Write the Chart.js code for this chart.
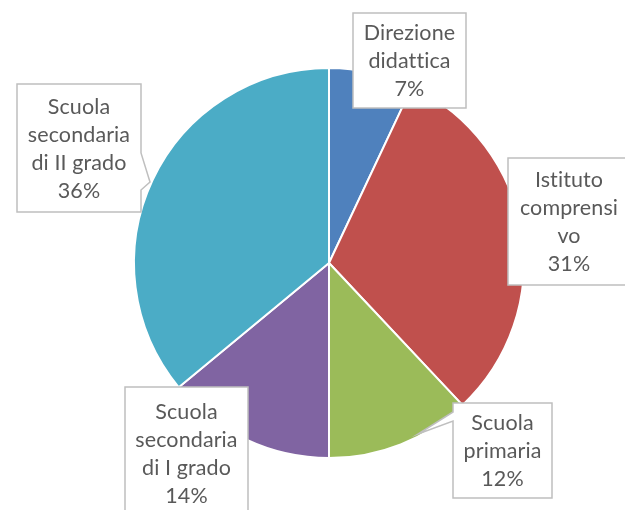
<!DOCTYPE html>
<html><head><meta charset="utf-8">
<script src="https://cdn.jsdelivr.net/npm/chart.js@4.4.0/dist/chart.umd.min.js"></script>
<style>html,body{margin:0;padding:0;background:#fff;overflow:hidden}#wrap{width:625px;height:510px;position:relative}</style>
</head><body><div id="wrap"><canvas id="c" width="625" height="510"></canvas></div>
<script>
// ---- data ----
const categories = ["Direzione didattica", "Istituto comprensivo", "Scuola primaria", "Scuola secondaria di I grado", "Scuola secondaria di II grado"];
const labelLines = [["Direzione", "didattica"], ["Istituto", "comprensi", "vo"], ["Scuola", "primaria"], ["Scuola", "secondaria", "di I grado"], ["Scuola", "secondaria", "di II grado"]];
const percentages = [7, 31, 12, 14, 36];
const sliceColors = ["#4F81BD", "#C0504D", "#9BBB59", "#8064A2", "#4BACC6"];

// ---- callout layout (pixels) ----
const calloutBoxes = [
  { x: 353, y: 13, w: 113, h: 95 },
  { x: 508, y: 158, w: 122, h: 127 },
  { x: 453, y: 403, w: 99, h: 95, ptr: { side: "left", a: 412, b: 421, tx: 418, ty: 434 } },
  { x: 125, y: 387, w: 123, h: 133 },
  { x: 17, y: 84, w: 124, h: 128, ptr: { side: "right", a: 153, b: 190, tx: 150, ty: 182 } }
];
const FONT = "21.5px Lato";
const LINE_H = 28;

const calloutPlugin = {
  id: "callouts",
  afterDatasetsDraw(chart) {
    const ctx = chart.ctx;
    const ds = chart.data.datasets[0];
    ctx.save();
    calloutBoxes.forEach((b, i) => {
      ctx.beginPath();
      const { x, y, w, h, ptr } = b;
      if (ptr && ptr.side === "right") {
        ctx.moveTo(x, y); ctx.lineTo(x + w, y); ctx.lineTo(x + w, ptr.a);
        ctx.lineTo(ptr.tx, ptr.ty); ctx.lineTo(x + w, ptr.b);
        ctx.lineTo(x + w, y + h); ctx.lineTo(x, y + h); ctx.closePath();
      } else if (ptr && ptr.side === "left") {
        ctx.moveTo(x, y); ctx.lineTo(x + w, y); ctx.lineTo(x + w, y + h);
        ctx.lineTo(x, y + h); ctx.lineTo(x, ptr.b); ctx.lineTo(ptr.tx, ptr.ty);
        ctx.lineTo(x, ptr.a); ctx.closePath();
      } else {
        ctx.rect(x, y, w, h);
      }
      ctx.fillStyle = "#ffffff";
      ctx.fill();
      ctx.strokeStyle = "#BFBFBF";
      ctx.lineWidth = 1.5;
      ctx.stroke();

      const lines = labelLines[i].concat([ds.data[i] + "%"]);
      ctx.fillStyle = "#595959";
      ctx.font = FONT;
      if ("letterSpacing" in ctx) ctx.letterSpacing = "0.1px";
      ctx.textAlign = "center";
      ctx.textBaseline = "middle";
      const cx = x + w / 2;
      const cy = y + h / 2 + 1;
      const start = cy - (lines.length - 1) * LINE_H / 2;
      lines.forEach((t, k) => ctx.fillText(t, cx, start + k * LINE_H));
    });
    ctx.restore();
  }
};

new Chart(document.getElementById("c"), {
  type: "pie",
  data: {
    labels: categories,
    datasets: [{
      data: percentages,
      backgroundColor: sliceColors,
      borderColor: "#ffffff",
      borderWidth: 2
    }]
  },
  options: {
    responsive: false,
    animation: false,
    layout: { padding: { left: 133, right: 100, top: 67, bottom: 51 } },
    plugins: { legend: { display: false }, tooltip: { enabled: false } }
  },
  plugins: [calloutPlugin]
});
</script>
</body></html>
